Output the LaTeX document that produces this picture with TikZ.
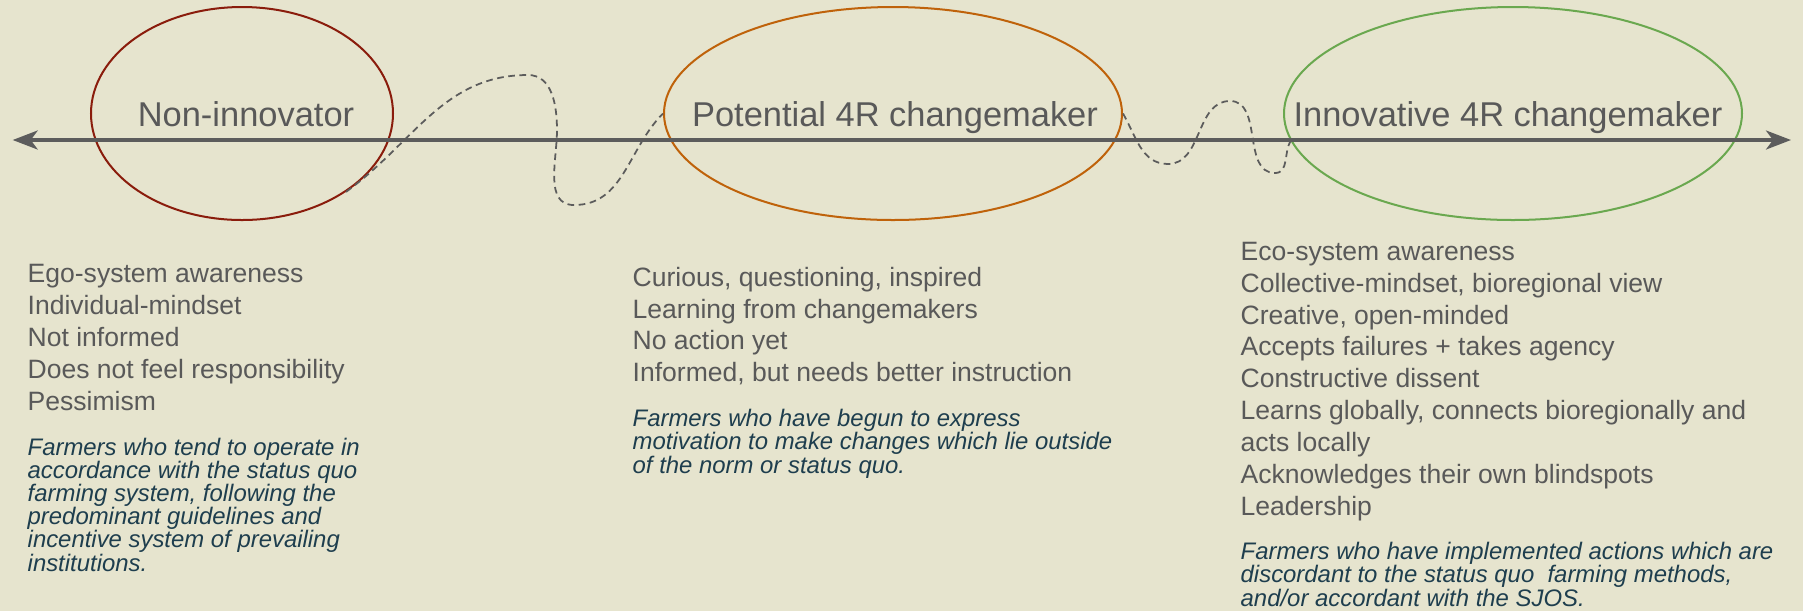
\documentclass[tikz,border=0pt]{standalone}
\usepackage{fontspec}
\setmainfont{Liberation Sans}
\usetikzlibrary{arrows.meta,shapes.geometric}

\definecolor{paper}{RGB}{230,228,206}
\definecolor{axisgray}{RGB}{92,92,92}
\definecolor{textgray}{RGB}{89,89,89}
\definecolor{notegray}{RGB}{30,62,78}
\definecolor{stagered}{RGB}{138,28,12}
\definecolor{stageorange}{RGB}{191,98,10}
\definecolor{stagegreen}{RGB}{106,168,79}

\tikzset{
  stage/.style={ellipse, draw, line width=0.57pt, minimum height=2.13cm, inner sep=0pt},
  stagename/.style={anchor=base, inner sep=0pt, text=textgray, font=\fontsize{9.8}{11}\selectfont},
  % base of a multi-line node sits on its last line
  traits/.style={anchor=base west, align=left, inner sep=0pt, text=textgray, font=\fontsize{7.55}{9.05}\selectfont},
  blurb/.style={anchor=base west, align=left, inner sep=0pt, text=notegray, font=\fontsize{6.8}{6.55}\selectfont\itshape},
  wiggle/.style={axisgray, line width=0.5pt, dash pattern=on 1.9pt off 1.3pt}
}

\begin{document}
\begin{tikzpicture}
    % Background
    \useasboundingbox (0,0) rectangle (18.03,-6.11);
    \fill[paper] (0,0) rectangle (18.03,-6.11);

    % Define coordinates
    \coordinate (L) at (0.127,-1.40);
    \coordinate (R) at (17.91,-1.40);

    % Stages
    \node[stage, draw=stagered, minimum width=3.02cm] (non) at (2.42,-1.135) {};
    \node[stage, draw=stageorange, minimum width=4.58cm] (pot) at (8.93,-1.135) {};
    \node[stage, draw=stagegreen, minimum width=4.58cm] (inn) at (15.13,-1.135) {};

    % Axis
    \draw[{Stealth[length=0.25cm,width=0.19cm,inset=0.07cm]}-{Stealth[length=0.25cm,width=0.19cm,inset=0.07cm]}, axisgray, line width=0.94pt] (L) -- (R);

    % Wavy paths between the stages
    \draw[wiggle] (non.-37) to[out=36,in=180] (5.28,-0.75) to[out=0,in=90] (5.57,-1.30)
        to[out=-90,in=180] (5.74,-2.05) to[out=0,in=-135] (pot.west);
    \draw[wiggle] (pot.east) to[out=-60,in=180] (11.68,-1.64) to[out=0,in=180] (12.30,-1.01)
        to[out=0,in=180] (12.75,-1.73) to[out=0,in=-120] (inn.187);

    % Stage names
    \node[stagename] (non-name) at (2.46,-1.26) {Non-innovator};
    \node[stagename] (pot-name) at (8.95,-1.26) {Potential 4R changemaker};
    \node[stagename] (inn-name) at (15.08,-1.26) {Innovative 4R changemaker};

    % Traits of each stage
    \node[traits] (non-traits) at (0.27,-4.10) {Ego-system awareness\\Individual-mindset\\Not informed\\Does not feel responsibility\\Pessimism};
    \node[traits] (pot-traits) at (6.32,-3.817) {Curious, questioning, inspired\\Learning from changemakers\\No action yet\\Informed, but needs better instruction};
    \node[traits] (inn-traits) at (12.40,-5.15) {Eco-system awareness\\Collective-mindset, bioregional view\\Creative, open-minded\\Accepts failures + takes agency\\Constructive dissent\\Learns globally, connects bioregionally and\\acts locally\\Acknowledges their own blindspots\\Leadership};

    % Descriptions
    \node[blurb] (non-blurb) at (0.27,-5.71) {Farmers who tend to operate in\\accordance with the status quo\\farming system, following the\\predominant guidelines and\\incentive system of prevailing\\institutions.};
    \node[blurb] (pot-blurb) at (6.32,-4.73) {Farmers who have begun to express\\motivation to make changes which lie outside\\of the norm or status quo.};
    \node[blurb] (inn-blurb) at (12.40,-6.06) {Farmers who have implemented actions which are\\discordant to the status quo\ \ farming methods,\\and/or accordant with the SJOS.};
\end{tikzpicture}
\end{document}
